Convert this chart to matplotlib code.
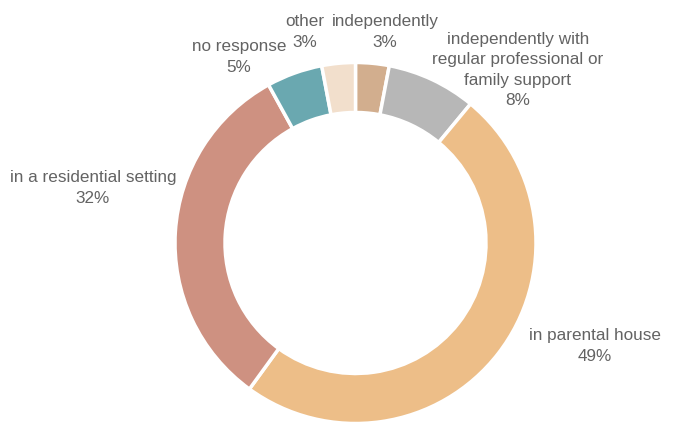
import matplotlib.pyplot as plt

# Living situation shares (clockwise from 12 o'clock)
labels = [
    "independently",
    "independently with\nregular professional or\nfamily support",
    "in parental house",
    "in a residential setting",
    "no response",
    "other",
]
shares = [3, 8, 49, 32, 5, 3]
colors = ["#D2AE8E", "#B7B7B7", "#EDBE88", "#CE9181", "#6AA8B0", "#F2DFCC"]

# label block centres in pixel coords (x, y from top)
label_pos = [(385, 32), (518, 70), (595, 346), (93, 188), (239, 57), (305, 32)]

W, H = 673, 425
fig = plt.figure(figsize=(W / 100, H / 100), dpi=100)
ax = fig.add_axes([0, 0, 1, 1])

cx, cy, r = 355.5, H - 243, 180.5
ax.pie(
    shares,
    colors=colors,
    startangle=90,
    counterclock=False,
    radius=r,
    center=(cx, cy),
    frame=True,
    wedgeprops=dict(width=50, edgecolor="white", linewidth=2.5),
)
ax.set_xlim(0, W)
ax.set_ylim(0, H)
ax.set_aspect("equal")
ax.axis("off")

for lab, val, (x, y) in zip(labels, shares, label_pos):
    ax.text(x, H - y, f"{lab}\n{val}%", ha="center", va="center",
            multialignment="center", fontsize=12.3, color="#636363",
            family="Liberation Sans", linespacing=1.42)

fig.savefig("out.png", dpi=100)
